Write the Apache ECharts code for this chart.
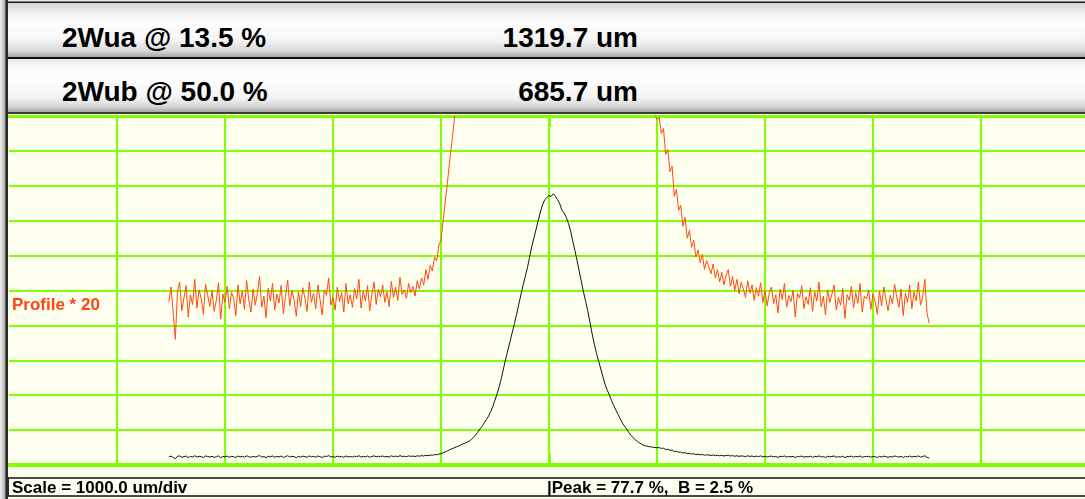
<!DOCTYPE html>
<html>
<head>
<meta charset="utf-8">
<title>Beam profile</title>
<script src="https://cdn.jsdelivr.net/npm/echarts@6.0.0/dist/echarts.min.js"></script>
<style>
html, body { margin:0; padding:0; }
body { width:1085px; height:499px; overflow:hidden; position:relative; background:#fffff0; font-family:"Liberation Sans", Arial, sans-serif; }
#main { position:absolute; left:0; top:0; width:1085px; height:499px; z-index:1; }
.frame { position:absolute; left:0; top:0; width:8px; height:499px; z-index:3;
  background:linear-gradient(to right, #efefef 0, #d6d6d6 2px, #c6c6c6 4px, #989898 5px, #2a2a2a 6px, #2a2a2a 8px); }
.topline { position:absolute; left:8px; right:0; top:0; height:3px; z-index:2;
  background:linear-gradient(#e6e6e6 0, #e6e6e6 1px, #1a1a1a 2px, #1a1a1a 3px); }
.row { position:absolute; left:8px; right:0; z-index:2; }
#row1 { top:3px; height:54px; border-bottom:2px solid #111;
  background:linear-gradient(#d6d6d6 0%, #f3f3f3 22%, #fdfdfd 40%, #f6f6f6 68%, #d8d8d8 88%, #a8a8a8 100%); }
#row2 { top:59px; height:53px; border-bottom:2px solid #3a3a3a;
  background:linear-gradient(#e8e8e8 0%, #fafafa 15%, #fdfdfd 45%, #f4f4f4 72%, #d6d6d6 90%, #a8a8a8 100%); }
.lbl, .val { position:absolute; font-weight:bold; font-size:28px; line-height:28px; color:#000; white-space:nowrap; }
.lbl { left:54px; }
.val { right:447px; }
#row1 .lbl, #row1 .val { top:21px; }
#row2 .lbl, #row2 .val { top:19px; }
.note { position:absolute; left:12px; top:296px; font-weight:bold; font-size:17px; line-height:17px; color:#ff4411; z-index:2; }
.foot { position:absolute; left:7px; right:0; top:477px; height:16px; border-top:2px solid #4a4a4a; border-bottom:2px solid #4a4a4a; z-index:2; }
.box { position:absolute; left:7px; top:477px; width:0; height:20px; border-left:2px solid #2a2a2a; z-index:2; }
.ftxt { position:absolute; top:479px; font-weight:bold; font-size:17px; line-height:17px; color:#000; white-space:nowrap; z-index:2; }
</style>
</head>
<body>
<div class="frame"></div>
<div class="topline"></div>
<div class="row" id="row1"><span class="lbl">2Wua @ 13.5 %</span><span class="val">1319.7 um</span></div>
<div class="row" id="row2"><span class="lbl">2Wub @ 50.0 %</span><span class="val">685.7 um</span></div>
<div id="main"></div>
<div class="note">Profile * 20</div>
<div class="foot"></div>
<div class="box"></div>
<div class="ftxt" style="left:12px;">Scale = 1000.0 um/div</div>
<div class="ftxt" style="left:547px;">|Peak = 77.7 %,&nbsp; B = 2.5 %</div>
<script>
/* sampling of the trace, um */
var sampleStart = -3520;
var sampleStep = 20;
/* measured profile, % of full scale */
var profile = [
    /* left background */
    2.34, 2.55, 2.18, 1.80, 2.48, 2.62, 2.21, 2.40, 2.57, 2.12,
    2.44, 2.30, 2.66, 2.25, 2.51, 2.38, 2.16, 2.59, 2.43, 2.27,
    2.50, 2.20, 2.36, 2.61, 2.09, 2.45, 2.33, 2.56, 2.24, 2.47,
    2.39, 2.14, 2.58, 2.31, 2.49, 2.23, 2.64, 2.37, 2.19, 2.52,
    2.29, 2.46, 2.70, 2.26, 2.42, 2.11, 2.53, 2.35, 2.60, 2.22,
    2.45, 2.32, 2.57, 2.17, 2.41, 2.65, 2.28, 2.50, 2.36, 2.13,
    2.48, 2.27, 2.54, 2.39, 2.20, 2.62, 2.33, 2.46, 2.24, 2.58,
    2.37, 2.15, 2.51, 2.43, 2.68, 2.29, 2.40, 2.22, 2.55, 2.34,
    2.47, 2.19, 2.60, 2.31, 2.44, 2.26, 2.53, 2.38, 2.66, 2.25,
    2.49, 2.35, 2.57, 2.21, 2.45, 2.62, 2.30, 2.52, 2.41, 2.58,
    2.33, 2.48, 2.27, 2.63, 2.40, 2.55, 2.36, 2.69, 2.44, 2.51,
    2.39, 2.60, 2.47, 2.56, 2.42, 2.64, 2.52,
    /* rising edge */
    2.68, 2.58, 2.80, 2.66, 2.86, 2.78, 2.98, 2.92, 3.15, 3.22,
    3.50, 3.78, 4.05, 4.35, 4.62, 4.90, 5.15, 5.4, 5.7, 6.0,
    6.2, 6.5, 6.8, 7.3, 7.9, 8.6, 9.4, 10.3, 11.1, 12.0,
    13.0, 14.0, 15.3, 16.8, 18.6, 20.5, 22.6, 25.0, 27.8, 30.5,
    33.0, 35.5, 38.0, 40.5, 43.2, 46.0, 48.8, 51.5, 54.0, 56.5,
    59.5, 62.5, 65.0, 67.5, 70.0, 72.5, 74.5, 76.0, 76.6,
    /* peak and falling edge */
    77.2, 77.0, 77.7, 77.0, 76.0, 74.8, 73.0, 72.2, 71.0, 69.2,
    67.0, 64.2, 61.5, 58.5, 55.5, 52.5, 49.5, 46.8, 44.0, 40.8,
    37.5, 34.6, 32.0, 29.7, 27.5, 25.2, 23.0, 21.4, 20.0, 18.4,
    17.0, 15.7, 14.5, 13.2, 12.0, 11.1, 10.2, 9.3, 8.5, 7.8,
    7.2, 6.7, 6.3, 5.9, 5.6, 5.45, 5.3, 5.2, 5.1, 5.02,
    4.95, 4.98, 4.75, 4.82, 4.45, 4.52, 4.20, 4.28, 3.85, 3.95,
    3.65, 3.72, 3.42, 3.55, 3.25, 3.36, 3.12, 3.22, 2.98, 3.08,
    2.90, 3.02, 2.80, 2.93, 2.84, 2.74, 2.88, 2.68, 2.80, 2.62,
    2.76, 2.58, 2.72, 2.80, 2.56, 2.70, 2.50, 2.66, 2.45, 2.62,
    2.52, 2.40, 2.64, 2.46, 2.58, 2.36, 2.54, 2.42, 2.61, 2.33,
    2.50,
    /* right background */
    2.28, 2.47, 2.55, 2.31, 2.44, 2.18, 2.52, 2.37, 2.60, 2.26,
    2.43, 2.34, 2.50, 2.12, 2.46, 2.39, 2.57, 2.24, 2.41, 2.30,
    2.54, 2.20, 2.48, 2.35, 2.62, 2.27, 2.42, 2.15, 2.51, 2.33,
    2.45, 2.58, 2.22, 2.40, 2.29, 2.53, 2.10, 2.44, 2.36, 2.56,
    2.25, 2.47, 2.32, 2.60, 2.19, 2.42, 2.38, 2.51, 2.23, 2.45,
    2.34, 2.16, 2.49, 2.28, 2.55, 2.37, 2.21, 2.43, 2.31, 2.59,
    2.40, 2.26, 2.52, 2.14, 2.46, 2.33, 2.58, 2.24, 2.48, 2.35,
    2.62, 2.29, 2.41, 2.66, 2.18, 2.03
];
var gain = 20;

var green = '#80ff00';

var lineChart = function () {
    var raw = [], amp = [];
    profile.forEach(function (v, i) {
        var x = sampleStart + i * sampleStep;
        raw.push([x, v]);
        amp.push([x, v * gain]);
    });

    var box = document.getElementById('main');
    var myChart = echarts.init(box);
    /* axis 0/1 carry the frame and centre mark, axis 2 only the grid */
    var frameAxis = function (pos, w) {
        return {
            type: 'value', position: pos, min: -5000, max: 4963, interval: 1000,
            axisLine: { show: true, onZero: false, lineStyle: { color: green, width: w } },
            axisTick: { show: true, inside: true, length: 11, customValues: [0], lineStyle: { color: green, width: 3 } },
            axisLabel: { show: false },
            splitLine: { show: false }
        };
    };
    var options = {
        animation: false,
        grid: { left: 9, right: 0, top: 116, bottom: 34 },
        xAxis: [
            frameAxis('bottom', 4),
            frameAxis('top', 3),
            {
                type: 'value', position: 'bottom', min: -5000, max: 4963, interval: 1000,
                axisLine: { show: false },
                axisTick: { show: false },
                axisLabel: { show: false },
                splitLine: { show: true, showMinLine: false, showMaxLine: false, lineStyle: { color: green, width: 2 } }
            }
        ],
        yAxis: {
            type: 'value', min: 0, max: 100, interval: 10,
            axisLine: { show: false },
            axisTick: { show: false },
            axisLabel: { show: false },
            splitLine: { show: true, lineStyle: { color: green, width: 2 } }
        },
        series: [
            {
                name: 'Profile * 20',
                type: 'line',
                data: amp,
                symbol: 'none',
                clip: true,
                lineStyle: { color: '#ff4a10', width: 1 },
                z: 3
            },
            {
                name: 'Profile',
                type: 'line',
                data: raw,
                symbol: 'none',
                lineStyle: { color: '#111', width: 1 },
                z: 4
            }
        ]
    };
    myChart.setOption(options);
};
lineChart();
</script>
</body>
</html>
